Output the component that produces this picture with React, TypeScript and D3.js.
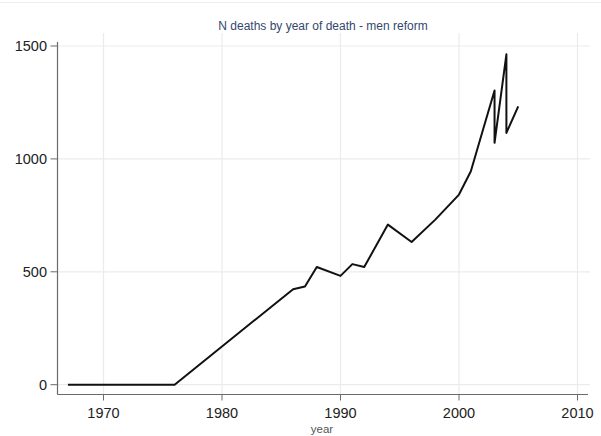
import React from "react";
import * as d3 from "d3";

const years = [1967, 1976, 1986, 1987, 1988, 1990, 1991, 1992, 1994, 1996, 1998, 2000, 2001, 2002, 2003, 2003, 2004, 2004, 2005];
const deaths = [0, 0, 423, 435, 521, 482, 534, 521, 709, 632, 731, 842, 945, 1125, 1303, 1071, 1463, 1115, 1233];
const xTicks = [1970, 1980, 1990, 2000, 2010];
const yTicks = [0, 500, 1000, 1500];
const title = "N deaths by year of death - men reform";
const xLabel = "year";

export default function App() {
  const W = 601, H = 436;
  const x = d3.scaleLinear().domain([1970, 2010]).range([103.5, 577.5]);
  const y = d3.scaleLinear().domain([0, 1500]).range([384.7, 46]);
  const data = years.map((yr, i) => ({ yr, v: deaths[i] }));
  const line = d3.line<{ yr: number; v: number }>().x(d => x(d.yr)).y(d => y(d.v));
  const font = "'Liberation Sans', Arial, sans-serif";
  const axisY = 394.5;
  const axisX = 57.5;
  return (
    <svg width={W} height={H} style={{ position: "absolute", left: 0, top: 0, background: "#fff" }}>
      <rect x={0} y={0} width={W} height={H} fill="#fff" />
      <line x1={0} x2={W} y1={2.5} y2={2.5} stroke="#eeeeee" strokeWidth={1} />
      {yTicks.map(t => (
        <line key={"gy" + t} x1={axisX} x2={590} y1={y(t)} y2={y(t)} stroke="#ebebeb" strokeWidth={1.2} />
      ))}
      {xTicks.map(t => (
        <line key={"gx" + t} x1={x(t)} x2={x(t)} y1={33} y2={axisY} stroke="#ebebeb" strokeWidth={1.2} />
      ))}
      <text x={323} y={30} textAnchor="middle" fontFamily={font} fontSize={12} fill="#34476e">{title}</text>
      <line x1={axisX} x2={axisX} y1={42} y2={axisY} stroke="#6a6a6a" strokeWidth={1.2} />
      <line x1={axisX} x2={588} y1={axisY} y2={axisY} stroke="#6a6a6a" strokeWidth={1.2} />
      {yTicks.map(t => (
        <g key={"ty" + t}>
          <line x1={50.5} x2={axisX} y1={y(t)} y2={y(t)} stroke="#6a6a6a" strokeWidth={1} />
          <text x={47} y={y(t) + 5} textAnchor="end" fontFamily={font} fontSize={14.5} fill="#222">{t}</text>
        </g>
      ))}
      {xTicks.map(t => (
        <g key={"tx" + t}>
          <line x1={x(t)} x2={x(t)} y1={axisY} y2={axisY + 6} stroke="#6a6a6a" strokeWidth={1} />
          <text x={x(t)} y={418} textAnchor="middle" fontFamily={font} fontSize={14.5} fill="#222">{t}</text>
        </g>
      ))}
      <text x={322} y={433} textAnchor="middle" fontFamily={font} fontSize={11.5} fill="#555">{xLabel}</text>
      <path d={line(data) || ""} fill="none" stroke="#111" strokeWidth={2} strokeLinejoin="round" />
    </svg>
  );
}
